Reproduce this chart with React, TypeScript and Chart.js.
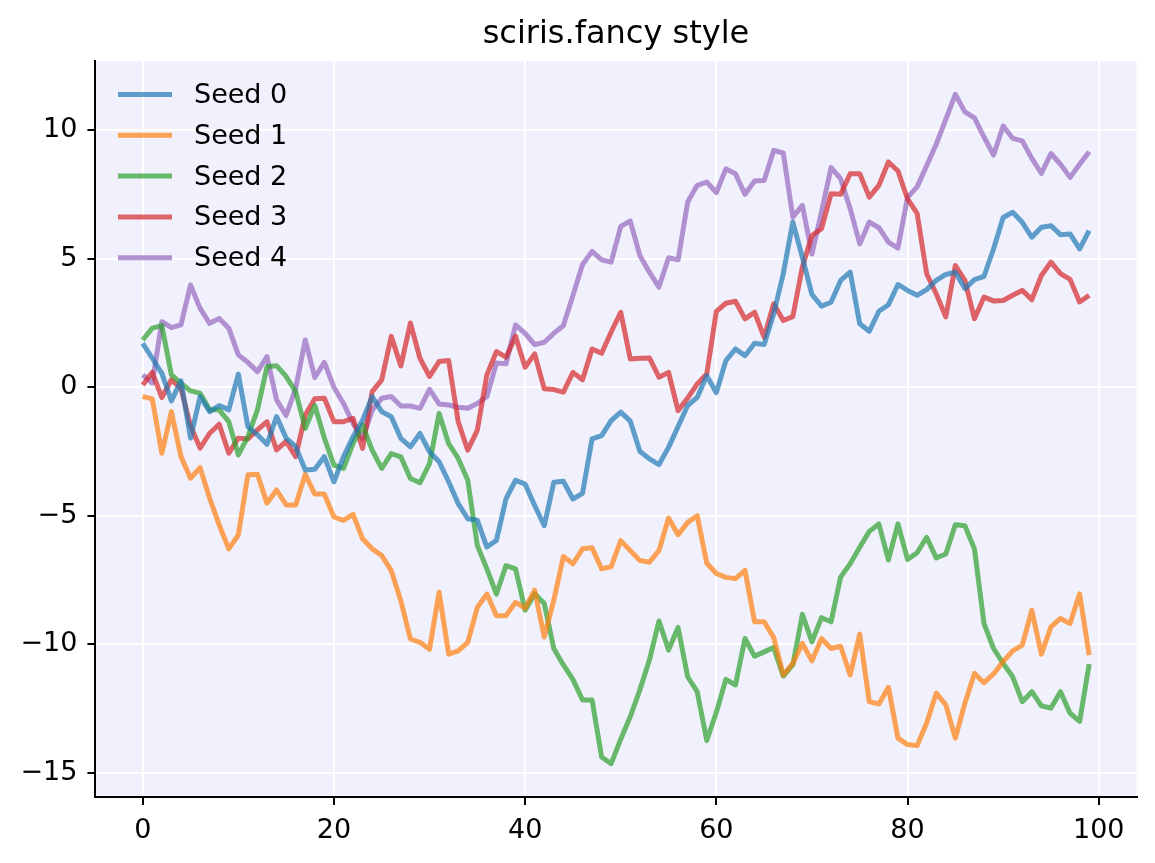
import React, { useEffect, useRef } from "react";
import { Chart, registerables } from "chart.js";

Chart.register(...registerables);

const seriesNames = ["Seed 0", "Seed 1", "Seed 2", "Seed 3", "Seed 4"];
const seriesColors = [
  "rgba(31,119,180,0.7)",
  "rgba(255,127,14,0.7)",
  "rgba(44,160,44,0.7)",
  "rgba(214,39,40,0.7)",
  "rgba(148,103,189,0.7)",
];

const seed0 = [
  1.71, 1.13, 0.54, -0.53, 0.25, -1.98, -0.36, -0.95, -0.71, -0.88, 0.51, -1.53, -1.85, -2.22, -1.14, -1.98, -2.31, -3.22, -3.19, -2.7,
  -3.68, -2.71, -1.93, -1.28, -0.36, -0.95, -1.15, -1.99, -2.32, -1.8, -2.51, -2.9, -3.68, -4.53, -5.12, -5.18, -6.22, -5.96, -4.34, -3.62,
  -3.77, -4.6, -5.39, -3.7, -3.66, -4.35, -4.13, -2.01, -1.88, -1.3, -0.97, -1.32, -2.49, -2.79, -3.01, -2.34, -1.53, -0.71, -0.39, 0.45,
  -0.21, 1.04, 1.49, 1.23, 1.71, 1.66, 2.86, 4.42, 6.43, 5.06, 3.61, 3.16, 3.31, 4.16, 4.48, 2.47, 2.18, 2.96, 3.21, 4.0,
  3.77, 3.58, 3.8, 4.16, 4.39, 4.48, 3.84, 4.19, 4.32, 5.39, 6.61, 6.81, 6.42, 5.84, 6.23, 6.29, 5.94, 5.97, 5.39, 6.1,
];

const seed1 = [
  -0.36, -0.45, -2.57, -0.95, -2.7, -3.54, -3.13, -4.32, -5.36, -6.29, -5.75, -3.41, -3.39, -4.51, -4.0, -4.58, -4.58, -3.39, -4.16, -4.16,
  -5.05, -5.18, -4.95, -5.9, -6.29, -6.55, -7.14, -8.31, -9.8, -9.93, -10.2, -7.98, -10.39, -10.26, -9.93, -8.57, -8.05, -8.89, -8.89, -8.37,
  -8.6, -7.9, -9.72, -8.29, -6.59, -6.87, -6.29, -6.25, -7.07, -6.98, -5.97, -6.36, -6.74, -6.81, -6.36, -5.09, -5.74, -5.26, -5.0, -6.85,
  -7.25, -7.4, -7.45, -7.13, -9.13, -9.13, -9.74, -11.2, -10.75, -9.97, -10.65, -9.78, -10.17, -10.08, -11.2, -9.61, -12.24, -12.33, -11.68, -13.66,
  -13.91, -13.95, -13.07, -11.91, -12.36, -13.66, -12.3, -11.14, -11.5, -11.16, -10.68, -10.26, -10.04, -8.68, -10.39, -9.33, -9.0, -9.2, -8.04, -10.43,
];

const seed2 = [
  1.84, 2.3, 2.4, 0.48, 0.16, -0.14, -0.23, -0.88, -0.88, -1.34, -2.63, -1.92, -0.88, 0.8, 0.84, 0.42, -0.17, -1.6, -0.71, -1.98,
  -3.03, -3.16, -2.19, -1.47, -2.45, -3.16, -2.58, -2.71, -3.55, -3.72, -2.97, -1.02, -2.19, -2.77, -3.62, -6.16, -7.07, -8.05, -6.94, -7.07,
  -8.68, -8.04, -8.42, -10.17, -10.81, -11.37, -12.17, -12.17, -14.39, -14.65, -13.7, -12.82, -11.78, -10.62, -9.1, -10.23, -9.35, -11.27, -11.85, -13.75,
  -12.65, -11.37, -11.59, -9.78, -10.47, -10.3, -10.13, -11.24, -10.81, -8.84, -9.91, -8.97, -9.13, -7.39, -6.87, -6.23, -5.61, -5.32, -6.72, -5.32,
  -6.7, -6.44, -5.84, -6.64, -6.49, -5.35, -5.39, -6.29, -9.2, -10.17, -10.75, -11.27, -12.24, -11.85, -12.4, -12.49, -11.85, -12.69, -13.01, -10.78,
];

const seed3 = [
  0.09, 0.58, -0.4, 0.29, -0.04, -1.5, -2.37, -1.79, -1.44, -2.57, -1.98, -2.01, -1.66, -1.34, -2.44, -2.11, -2.7, -1.08, -0.45, -0.43,
  -1.34, -1.34, -1.21, -2.38, -0.17, 0.29, 1.98, 0.83, 2.5, 1.13, 0.42, 1.0, 1.04, -1.34, -2.45, -1.67, 0.48, 1.39, 1.17, 1.98,
  0.78, 1.3, -0.06, -0.09, -0.19, 0.58, 0.29, 1.49, 1.32, 2.15, 2.92, 1.1, 1.13, 1.14, 0.39, 0.58, -0.91, -0.42, 0.13, 0.52,
  2.95, 3.27, 3.35, 2.66, 2.92, 1.95, 3.25, 2.6, 2.75, 4.68, 5.91, 6.17, 7.53, 7.51, 8.31, 8.31, 7.4, 7.86, 8.77, 8.42,
  7.33, 6.77, 4.42, 3.64, 2.74, 4.74, 4.16, 2.67, 3.51, 3.36, 3.38, 3.58, 3.77, 3.41, 4.35, 4.87, 4.42, 4.2, 3.32, 3.58,
];

const seed4 = [
  0.48, 0.16, 2.55, 2.32, 2.43, 3.98, 3.07, 2.49, 2.68, 2.3, 1.26, 0.97, 0.61, 1.19, -0.49, -1.1, -0.04, 1.84, 0.38, 0.97,
  0.0, -0.63, -1.41, -2.0, -0.89, -0.43, -0.36, -0.73, -0.73, -0.82, -0.08, -0.65, -0.69, -0.78, -0.82, -0.63, -0.36, 0.94, 0.91, 2.43,
  2.1, 1.66, 1.75, 2.1, 2.4, 3.57, 4.78, 5.29, 4.96, 4.87, 6.26, 6.47, 5.13, 4.48, 3.9, 5.04, 4.96, 7.21, 7.86, 7.99,
  7.58, 8.5, 8.31, 7.51, 8.03, 8.05, 9.22, 9.12, 6.62, 7.08, 5.19, 6.82, 8.55, 8.12, 6.95, 5.58, 6.43, 6.21, 5.65, 5.42,
  7.39, 7.8, 8.62, 9.46, 10.43, 11.4, 10.72, 10.49, 9.74, 9.04, 10.17, 9.69, 9.59, 8.91, 8.32, 9.1, 8.68, 8.17, 8.68, 9.17,
];

const allSeries = [seed0, seed1, seed2, seed3, seed4];

const xTicks = [0, 20, 40, 60, 80, 100];
const yTicks = [-15, -10, -5, 0, 5, 10];
const titleText = "sciris.fancy style";

const FONT = "'DejaVu Sans', 'Liberation Sans', sans-serif";

const fmt = (v: number) => (v < 0 ? "\u2212" + Math.abs(v) : String(v));

export default function App() {
  const ref = useRef<HTMLCanvasElement | null>(null);

  useEffect(() => {
    document.body.style.margin = "0";
    const canvas = ref.current;
    if (!canvas) return;

    const bgPlugin = {
      id: "axesBg",
      beforeDraw(chart: any) {
        const { ctx, chartArea } = chart;
        ctx.save();
        ctx.fillStyle = "#f1f1fd";
        ctx.fillRect(chartArea.left, chartArea.top, chartArea.right - chartArea.left, chartArea.bottom - chartArea.top);
        ctx.restore();
      },
    };

    const legendPlugin = {
      id: "mplLegend",
      afterDatasetsDraw(chart: any) {
        const { ctx } = chart;
        ctx.save();
        const x0 = 118;
        const x1 = 172;
        const tx = 194;
        const y0 = 94.5;
        const dy = 40.8;
        chart.data.datasets.forEach((ds: any, i: number) => {
          const y = y0 + i * dy;
          ctx.strokeStyle = ds.borderColor;
          ctx.lineWidth = 5;
          ctx.lineCap = "butt";
          ctx.beginPath();
          ctx.moveTo(x0, y);
          ctx.lineTo(x1, y);
          ctx.stroke();
          ctx.fillStyle = "#000";
          ctx.font = `27px ${FONT}`;
          ctx.textBaseline = "middle";
          ctx.textAlign = "left";
          ctx.fillText(ds.label, tx, y + 1.5);
        });
        ctx.restore();
      },
    };

    const chart = new Chart(canvas, {
      type: "line",
      data: {
        datasets: allSeries.map((vals, s) => ({
          label: seriesNames[s],
          data: vals.map((y, i) => ({ x: i, y })),
          borderColor: seriesColors[s],
          backgroundColor: seriesColors[s],
          borderWidth: 5,
          pointRadius: 0,
          pointHoverRadius: 0,
          tension: 0,
          fill: false,
          borderJoinStyle: "round",
          borderCapStyle: "butt",
        })),
      },
      options: {
        animation: false,
        responsive: false,
        devicePixelRatio: 1,
        events: [],
        layout: { padding: { left: 0, right: 18.5, top: 0, bottom: 0 } },
        plugins: {
          legend: { display: false },
          tooltip: { enabled: false },
          title: {
            display: true,
            text: titleText,
            fullSize: false,
            color: "#000",
            font: { family: FONT, size: 32, weight: "normal" },
            padding: { top: 15, bottom: 7.6 },
          },
        },
        scales: {
          x: {
            type: "linear",
            min: -4.95,
            max: 103.95,
            afterBuildTicks(scale: any) {
              scale.ticks = xTicks.map((v) => ({ value: v }));
            },
            afterFit(scale: any) {
              scale.height = 66;
            },
            grid: {
              color: "#ffffff",
              lineWidth: 2,
              drawTicks: true,
              tickLength: 8,
              tickColor: "#000",
              tickWidth: 2,
            },
            border: { display: true, color: "#000", width: 2 },
            ticks: {
              autoSkip: false,
              maxRotation: 0,
              padding: 10,
              color: "#000",
              font: { family: FONT, size: 27 },
              callback: (v: any) => fmt(Number(v)),
            },
          },
          y: {
            type: "linear",
            min: -15.95,
            max: 12.7,
            afterBuildTicks(scale: any) {
              scale.ticks = yTicks.map((v) => ({ value: v }));
            },
            afterFit(scale: any) {
              scale.width = 95.4;
            },
            grid: {
              color: "#ffffff",
              lineWidth: 2,
              drawTicks: true,
              tickLength: 8,
              tickColor: "#000",
              tickWidth: 2,
            },
            border: { display: true, color: "#000", width: 2 },
            ticks: {
              autoSkip: false,
              padding: 10,
              color: "#000",
              font: { family: FONT, size: 27 },
              callback: (v: any) => fmt(Number(v)),
            },
          },
        },
      },
      plugins: [bgPlugin, legendPlugin],
    } as any);

    return () => chart.destroy();
  }, []);

  return (
    <div style={{ width: 1155, height: 863 }}>
      <canvas ref={ref} width={1155} height={863} style={{ display: "block" }} />
    </div>
  );
}
